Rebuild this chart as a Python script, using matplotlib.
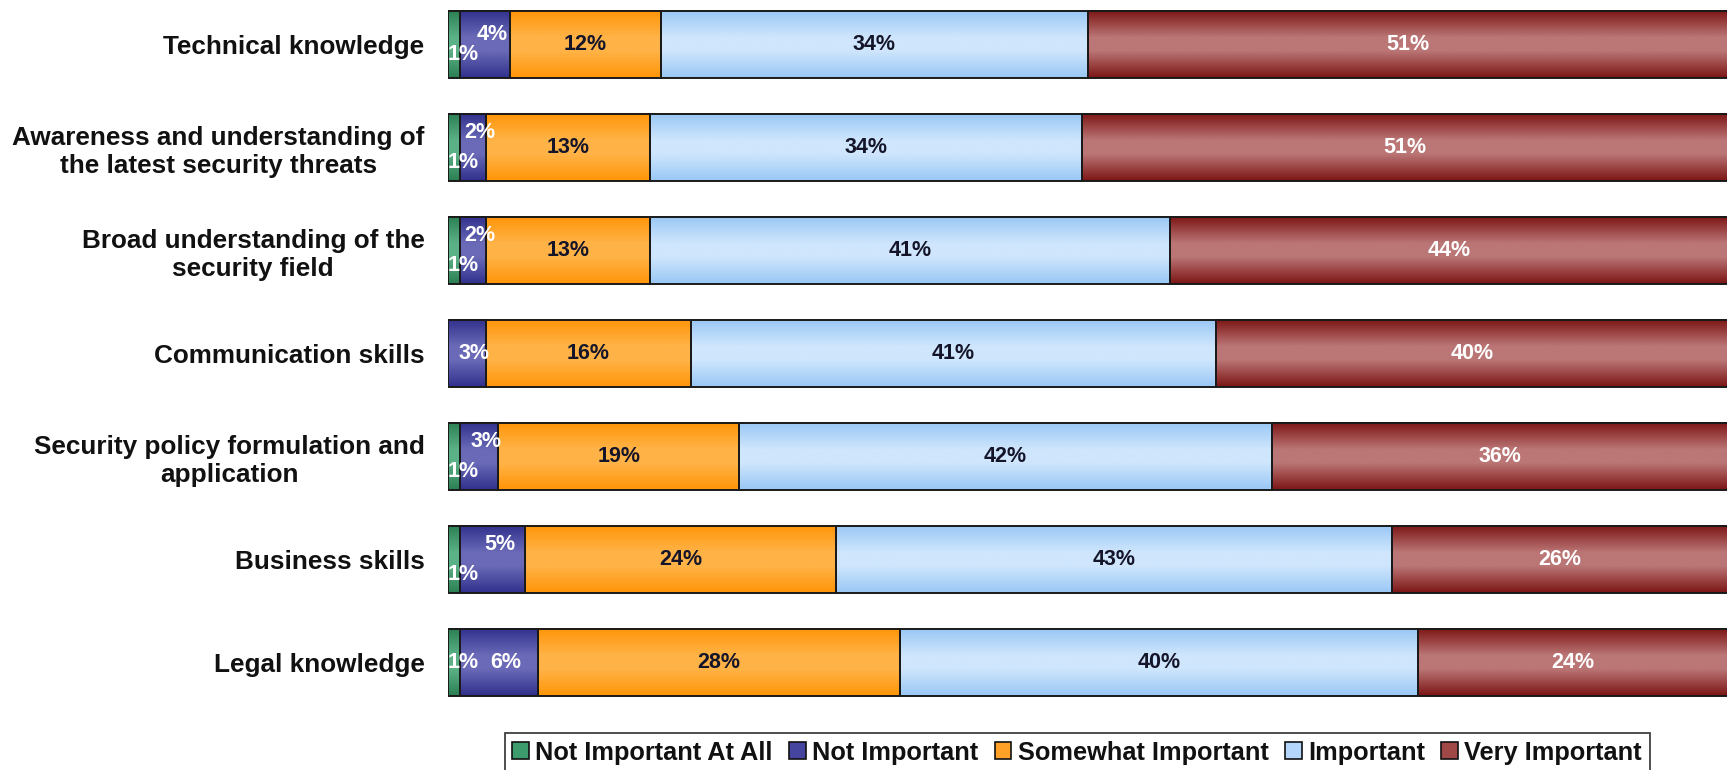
import numpy as np
import matplotlib
matplotlib.use("Agg")
import matplotlib.pyplot as plt
from matplotlib.colors import LinearSegmentedColormap
from matplotlib.patches import Patch

# ---------------- data ----------------
categories = [
    "Technical knowledge",
    "Awareness and understanding of\nthe latest security threats",
    "Broad understanding of the\nsecurity field",
    "Communication skills",
    "Security policy formulation and\napplication",
    "Business skills",
    "Legal knowledge",
]
series_names = ["Not Important At All", "Not Important", "Somewhat Important",
                "Important", "Very Important"]
not_important_at_all = [1, 1, 1, 0, 1, 1, 1]
not_important = [4, 2, 2, 3, 3, 5, 6]
somewhat_important = [12, 13, 13, 16, 19, 24, 28]
important = [34, 34, 41, 41, 42, 43, 40]
very_important = [51, 51, 44, 40, 36, 26, 24]

# ---------------- style ----------------
base_colors = ["#3d9c6c", "#45459f", "#ffa126", "#b3d6fa", "#a04848"]
dark_colors = ["#2a7e52", "#30308c", "#ff9508", "#99c7f5", "#7c1414"]
light_colors = ["#5cb287", "#6a6ab8", "#ffb347", "#cfe6fd", "#bb7676"]
text_colors = ["white", "white", "#15152a", "#15152a", "white"]
# vertical staggering (px) of small labels for the first two segments
small_dy_px = [10, 15, 15, 0, 15, 15, 0]
small_dx_px = [9, 7]   # horizontal nudge of the two smallest segment labels

plt.rcParams["font.family"] = ["Liberation Sans", "DejaVu Sans"]

W, H, DPI = 1727, 770, 100
fig = plt.figure(figsize=(W / DPI, H / DPI), dpi=DPI)
left_px = 447.5
ax = fig.add_axes([left_px / W, 56 / H, 1 - left_px / W, 714 / H])

series = [not_important_at_all, not_important, somewhat_important,
          important, very_important]
data = np.array(series, dtype=float)          # shape (5, n)
totals = data.sum(axis=0)
frac = data / totals
y = np.arange(len(categories))
bar_h = 0.66

grad = np.linspace(0, 1, 256).reshape(-1, 1)
lefts = np.zeros(len(categories))
for s, name in enumerate(series_names):
    bars = ax.barh(y, frac[s], left=lefts, height=bar_h, facecolor="none",
                   edgecolor="#1a1a1a", linewidth=1.4, zorder=3)
    cmap = LinearSegmentedColormap.from_list(
        f"g{s}", [(0, dark_colors[s]), (0.4, light_colors[s]),
                  (0.6, light_colors[s]), (1, dark_colors[s])])
    for i, rect in enumerate(bars):
        x0, y0 = rect.get_x(), rect.get_y()
        w, h = rect.get_width(), rect.get_height()
        if w <= 0:
            continue
        ax.imshow(grad, cmap=cmap, extent=(x0, x0 + w, y0, y0 + h),
                  aspect="auto", zorder=2, interpolation="bilinear")
        v = int(data[s, i])
        dy = 0
        dx = small_dx_px[s] if s < 2 else 0
        if s == 0 and data[1, i] > 0:
            dy = -small_dy_px[i]
        elif s == 1 and data[0, i] > 0:
            dy = small_dy_px[i]
        ax.annotate(f"{v}%", xy=(x0 + w / 2, y0 + h / 2),
                    xytext=(dx * 0.72, dy * 0.72), textcoords="offset points",
                    ha="center", va="center", fontsize=15.5,
                    fontweight="bold", color=text_colors[s], zorder=4)
    lefts = lefts + frac[s]

ax.set_xlim(0, 0.999)
ax.set_ylim(len(categories) - 0.5, -0.432)
ax.set_yticks(y)
ax.set_yticklabels(categories, fontsize=18.8, fontweight="bold", color="#111111")
for lbl in ax.get_yticklabels():
    lbl.set_multialignment("center")
ax.tick_params(axis="y", length=0, pad=16.5)
ax.set_xticks([])
for sp in ax.spines.values():
    sp.set_visible(False)

handles = [Patch(facecolor=base_colors[s], edgecolor="#111111", linewidth=1.2,
                 label=series_names[s]) for s in range(5)]
leg = fig.legend(handles=handles, loc="lower center",
                 bbox_to_anchor=(0.6237, -0.003), ncol=5, frameon=True,
                 fancybox=False, edgecolor="#111111", fontsize=18.3,
                 handlelength=0.65, handleheight=0.65, handletextpad=0.25,
                 columnspacing=0.65, borderpad=0.3, borderaxespad=0)
leg.get_frame().set_linewidth(1.3)
for t in leg.get_texts():
    t.set_fontweight("bold")
    t.set_color("#111111")

fig.savefig("out.png", dpi=DPI, facecolor="white")
